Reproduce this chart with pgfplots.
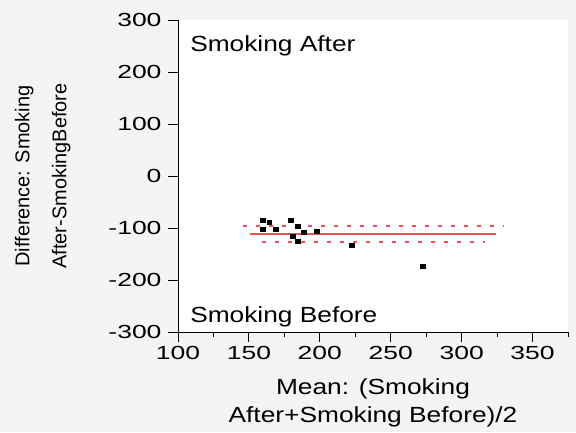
\documentclass[border=0pt]{standalone}
\usepackage{pgfplots}
\pgfplotsset{compat=1.18}
\usepackage{fontspec}
\setmainfont{Liberation Sans}[FakeStretch=1.2]
\newfontfamily\tickfont{Liberation Sans}[FakeStretch=1.4]
\newfontfamily\ylabfont{Liberation Sans}
\definecolor{bg}{RGB}{244,244,244}
\definecolor{lred}{RGB}{235,80,92}
\begin{document}
\begin{tikzpicture}[x=1bp,y=1bp]
\fill[bg] (0,0) rectangle (576,432);
\begin{axis}[
  at={(178bp,100bp)}, anchor=south west,
  scale only axis, width=390bp, height=312bp,
  xmin=100, xmax=375, ymin=-300, ymax=300,
  axis x line=bottom, axis y line=left,
  axis line style={-, black, line width=0.9bp},
  axis background/.style={fill=white},
  xtick={100,150,...,350}, minor xtick={125,175,...,375},
  ytick={-300,-200,...,300},
  tick align=outside, major tick length=10bp, minor tick length=5bp,
  tick style={black, line width=0.9bp},
  tick label style={font=\tickfont\fontsize{19}{19}\selectfont},
  yticklabel style={xshift=-3bp},
  xticklabel style={yshift=-1bp},
  /pgf/number format/assume math mode=true,
  xlabel={Mean: (Smoking\\After+Smoking Before)/2},
  xlabel style={font=\fontsize{22}{28}\selectfont, align=center,
    at={(axis description cs:0.5,-0.228)}, anchor=center},
  ylabel={Difference: Smoking\\After-SmokingBefore},
  ylabel style={font=\ylabfont\fontsize{20}{37}\selectfont, align=center,
    at={(axis description cs:-0.347,0.5)}, anchor=center},
  clip=false,
]
\addplot[lred, line width=2.2bp] coordinates {(150.7,-111.2) (324.3,-111.2)};
\addplot[lred, line width=1.4bp, dash pattern=on 4bp off 9bp] coordinates {(145.5,-95.8) (328.9,-95.8)};
\addplot[lred, line width=1.4bp, dash pattern=on 4bp off 9bp] coordinates {(158.9,-127) (316.2,-127)};
\addplot[only marks, mark=square*, mark size=2bp, black, mark options={xscale=1.2}] coordinates {
(159.6,-84.9) (164.3,-88.7) (159.6,-102.2) (169.0,-102.2) (179.6,-84.9)
(184.3,-95.8) (180.8,-115) (184.3,-125.9) (188.9,-108.7) (197.9,-106)
(222.5,-132.3) (272.3,-172.5)};
\node[anchor=base west, inner sep=0pt, font=\fontsize{22}{26}\selectfont] at (axis cs:108.5,239.6) {Smoking After};
\node[anchor=base west, inner sep=0pt, font=\fontsize{22}{26}\selectfont] at (axis cs:108.5,-281.2) {Smoking Before};
\end{axis}
\pgfresetboundingbox
\path[use as bounding box] (0,0) rectangle (576,432);
\end{tikzpicture}
\end{document}
